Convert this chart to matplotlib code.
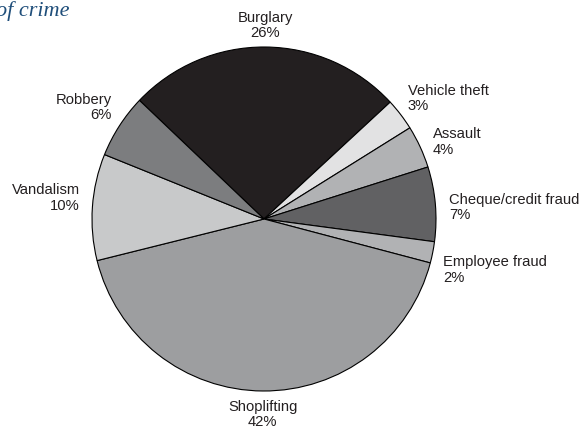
import numpy as np
import matplotlib.pyplot as plt

categories = ['Burglary', 'Vehicle theft', 'Assault', 'Cheque/credit fraud',
              'Employee fraud', 'Shoplifting', 'Vandalism', 'Robbery']
shares = [26, 3, 4, 7, 2, 42, 10, 6]
colours = ['#231f20', '#e2e2e3', '#b1b2b4', '#616163',
           '#b1b2b4', '#9d9ea0', '#c8c9ca', '#7c7d7f']

W, H = 582, 437
cx, cy, R = 264, 219, 172  # pie centre / radius in pixels

# label nudges in pixels (dx right, dy up) from the r=1.08 anchor
nudge = {'Burglary': (0, 8), 'Vehicle theft': (-4, 8), 'Assault': (0, -1),
         'Cheque/credit fraud': (0, -5), 'Employee fraud': (-3, -15),
         'Shoplifting': (0, -10), 'Vandalism': (1, 8), 'Robbery': (4, 11)}

fig = plt.figure(figsize=(W / 100, H / 100), dpi=100)
ax = fig.add_axes([0, 0, 1, 1])

wedges, _ = ax.pie(shares, colors=colours, startangle=136.4, counterclock=False,
                   wedgeprops=dict(edgecolor='black', linewidth=0.8))

for w, cat, s in zip(wedges, categories, shares):
    mid = np.deg2rad((w.theta1 + w.theta2) / 2)
    dx, dy = nudge[cat]
    x = 1.08 * np.cos(mid) + dx / R
    y = 1.08 * np.sin(mid) + dy / R
    if np.cos(mid) > 0.3:
        ha = 'left'
    elif np.cos(mid) < -0.3:
        ha = 'right'
    else:
        ha = 'center'
    ax.text(x, y, f'{cat}\n{s}%', ha=ha, va='center', ma=ha,
            fontsize=10.6, family='Liberation Sans', linespacing=1.12,
            color='#231f20')

ax.set_xlim(-cx / R, (W - cx) / R)
ax.set_ylim(-(H - cy) / R, cy / R)
ax.axis('off')

fig.text(-4 / W, 1 - 16 / H, 'of crime', fontsize=16, style='italic',
         family='Liberation Serif', color='#1f4e7a', va='baseline')

fig.savefig('out.png', dpi=100)
